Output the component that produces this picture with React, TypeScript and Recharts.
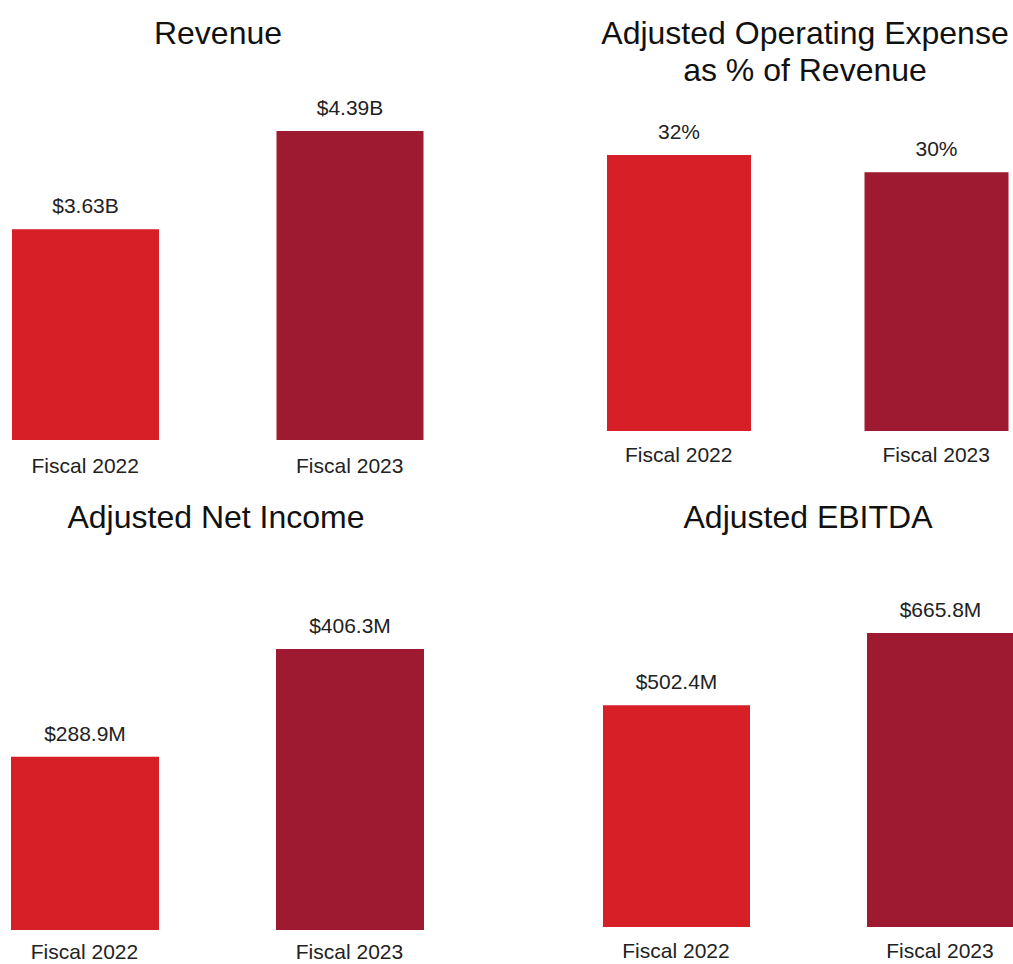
import React from 'react';
import { BarChart, Bar, XAxis, YAxis, LabelList, Cell } from 'recharts';

const categories = ['Fiscal 2022', 'Fiscal 2023'];

const revenueValues = [3.63, 4.39];
const revenueLabels = ['$3.63B', '$4.39B'];

const opexValues = [32, 30];
const opexLabels = ['32%', '30%'];

const netIncomeValues = [288.9, 406.3];
const netIncomeLabels = ['$288.9M', '$406.3M'];

const ebitdaValues = [502.4, 665.8];
const ebitdaLabels = ['$502.4M', '$665.8M'];

const barColors = ['#D71F27', '#9D1A30'];
const font = '"Liberation Sans", Arial, sans-serif';

const buildRows = (values: number[], labels: string[]) =>
  categories.map((name, i) => ({ name, value: values[i], label: labels[i] }));

interface IPanelProps {
  readonly values: number[];
  readonly labels: string[];
  readonly domain: [number, number];
  readonly c1: number; // center of first bar
  readonly c2: number; // center of second bar
  readonly plotTop: number;
  readonly plotBottom: number;
  readonly barSize: number;
  readonly tickMargin: number;
}

const TOP = 44;
const AXIS_H = 44;

function Panel(props: IPanelProps) {
  const band = props.c2 - props.c1;
  const left = props.c1 - band / 2;
  const width = band * 2;
  const plotH = props.plotBottom - props.plotTop;
  const height = TOP + plotH + AXIS_H;
  return (
    <div style={{ position: 'absolute', left, top: props.plotTop - TOP }}>
      <BarChart
        width={width}
        height={height}
        data={buildRows(props.values, props.labels)}
        margin={{ top: TOP, right: 0, left: 0, bottom: 0 }}
      >
        <XAxis
          dataKey="name"
          tickLine={false}
          axisLine={false}
          interval={0}
          height={AXIS_H}
          tickMargin={props.tickMargin}
          tick={{ fontSize: 21, fill: '#222', fontFamily: font }}
        />
        <YAxis hide domain={props.domain} allowDataOverflow />
        <Bar dataKey="value" barSize={props.barSize} isAnimationActive={false}>
          {barColors.map((c, i) => (
            <Cell key={i} fill={c} />
          ))}
          <LabelList
            dataKey="label"
            position="top"
            offset={16}
            fill="#222"
            fontSize={21}
            fontFamily={font}
          />
        </Bar>
      </BarChart>
    </div>
  );
}

function Title({ text, cx, top }: { text: React.ReactNode; cx: number; top: number }) {
  return (
    <div
      style={{
        position: 'absolute',
        left: cx - 250,
        top,
        width: 500,
        textAlign: 'center',
        fontFamily: font,
        fontSize: 32,
        lineHeight: '37px',
        color: '#111',
      }}
    >
      {text}
    </div>
  );
}

export default function App() {
  return (
    <div
      style={{
        position: 'absolute',
        left: 0,
        top: 0,
        width: 1013,
        height: 964,
        overflow: 'hidden',
        background: '#fff',
      }}
    >
      <Title text="Revenue" cx={218} top={15} />
      <Title
        text={
          <>
            Adjusted Operating Expense
            <br />
            as % of Revenue
          </>
        }
        cx={805}
        top={15}
      />
      <Title text="Adjusted Net Income" cx={216} top={499} />
      <Title text="Adjusted EBITDA" cx={808} top={499} />

      <Panel
        values={revenueValues}
        labels={revenueLabels}
        domain={[2, 4.39]}
        c1={85.5}
        c2={350}
        plotTop={131}
        plotBottom={440}
        barSize={147}
        tickMargin={12}
      />
      <Panel
        values={opexValues}
        labels={opexLabels}
        domain={[0, 32]}
        c1={679}
        c2={936.5}
        plotTop={155}
        plotBottom={431}
        barSize={144}
        tickMargin={10}
      />
      <Panel
        values={netIncomeValues}
        labels={netIncomeLabels}
        domain={[100, 406.3]}
        c1={84}
        c2={349}
        plotTop={649}
        plotBottom={930}
        barSize={148}
        tickMargin={8}
      />
      <Panel
        values={ebitdaValues}
        labels={ebitdaLabels}
        domain={[0, 665.8]}
        c1={675.5}
        c2={939.5}
        plotTop={633}
        plotBottom={927}
        barSize={147}
        tickMargin={10}
      />
    </div>
  );
}
